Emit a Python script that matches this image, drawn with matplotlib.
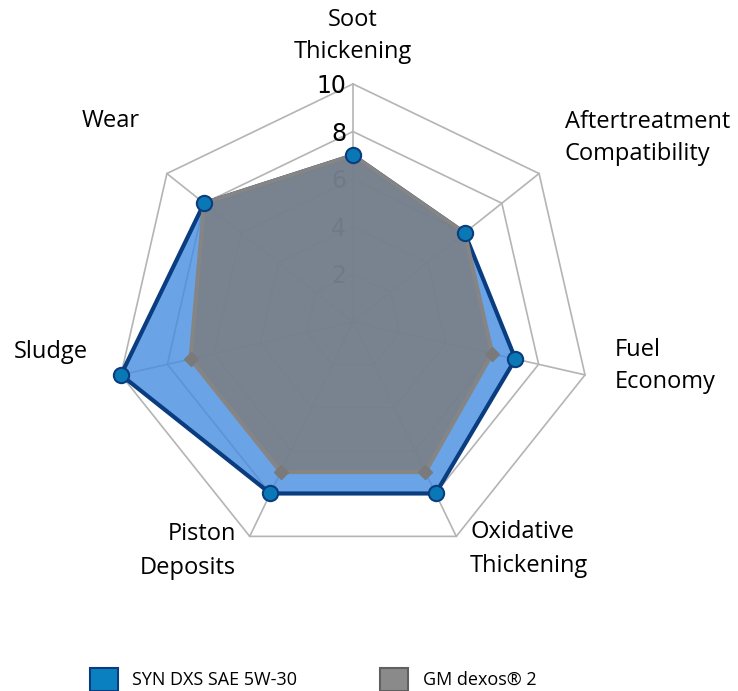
import numpy as np
import matplotlib
matplotlib.use("Agg")
import matplotlib.pyplot as plt
from matplotlib.patches import Patch
from matplotlib.transforms import offset_copy

# datos
categorias = ["Soot\nThickening", "Aftertreatment\nCompatibility", "Fuel\nEconomy",
              "Oxidative\nThickening", "Piston\nDeposits", "Sludge", "Wear"]
syn_dxs = [7, 6, 7, 8, 8, 10, 8]
gm_dexos = [7, 6, 6, 7, 7, 7, 8]
niveles = [2, 4, 6, 8, 10]
series_nombres = ["SYN DXS SAE 5W-30", "GM dexos® 2"]

fuente = "Open Sans"

fig = plt.figure(figsize=(7.38, 6.91), dpi=100)
ax = fig.add_axes([0.1558, 0.1896, 0.645, 0.689], projection="polar")
ax.set_theta_offset(np.pi / 2)
ax.set_theta_direction(-1)
ax.set_ylim(0, 10)
ax.axis("off")

n = len(categorias)
angulos = np.linspace(0, 2 * np.pi, n, endpoint=False)
ang_cerrado = np.append(angulos, angulos[0])

# rejilla heptagonal
for nv in niveles:
    ax.plot(ang_cerrado, [nv] * (n + 1), color="#b4b4b4", lw=1.2, zorder=1, clip_on=False)
for a in angulos:
    ax.plot([a, a], [0, 10], color="#b4b4b4", lw=1.2, zorder=1, clip_on=False)

# etiquetas del eje radial
trans = offset_copy(ax.transData, fig=fig, x=-5, y=-1.5, units="points")
for nv in niveles:
    ax.text(0, nv, str(nv), transform=trans, ha="right", va="center",
            fontsize=17, color="black", zorder=1.5)

def cerrar(v):
    return list(v) + [v[0]]

# serie 1
ax.fill(ang_cerrado, cerrar(syn_dxs), color="#468ce1", alpha=0.8, zorder=2, clip_on=False)
ax.plot(ang_cerrado, cerrar(syn_dxs), color="#0a3d80", lw=3, zorder=3, clip_on=False)
ax.plot(angulos, syn_dxs, "o", ms=11, mfc="#0a78b4", mec="#0a3d80", mew=1.5,
        zorder=5, clip_on=False)

# serie 2
ax.fill(ang_cerrado, cerrar(gm_dexos), color="#7d7d7d", alpha=0.82, zorder=3.5)
ax.plot(ang_cerrado, cerrar(gm_dexos), color="#858585", lw=3, zorder=4)
ax.plot(angulos, gm_dexos, "D", ms=7, mfc="#7a7a7a", mec="#7a7a7a", zorder=4.5)

# etiquetas de categorías (posición en píxeles de la figura)
pos_etiquetas = [(353, 36, "center"), (565, 138, "left"), (615, 366, "left"),
                 (470, 549, "left"), (236, 551, "right"), (88, 352, "right"),
                 (140, 121, "right")]
for txt, (px, py, ha) in zip(categorias, pos_etiquetas):
    fig.text(px / 738, 1 - py / 691, txt, ha=ha, va="center", fontsize=17,
             family=fuente, linespacing=1.5)

handles = [Patch(facecolor="#0a80c0", edgecolor="#0a3d80", lw=1.5),
           Patch(facecolor="#8a8a8a", edgecolor="#606060", lw=1.5)]
fig.legend(handles, series_nombres, loc="center", bbox_to_anchor=(0.424, 0.017),
           ncol=2, frameon=False, prop={"family": fuente, "size": 13},
           handlelength=1.55, handleheight=1.55, handletextpad=0.8, columnspacing=4.6)

fig.savefig("out.png", dpi=100)
